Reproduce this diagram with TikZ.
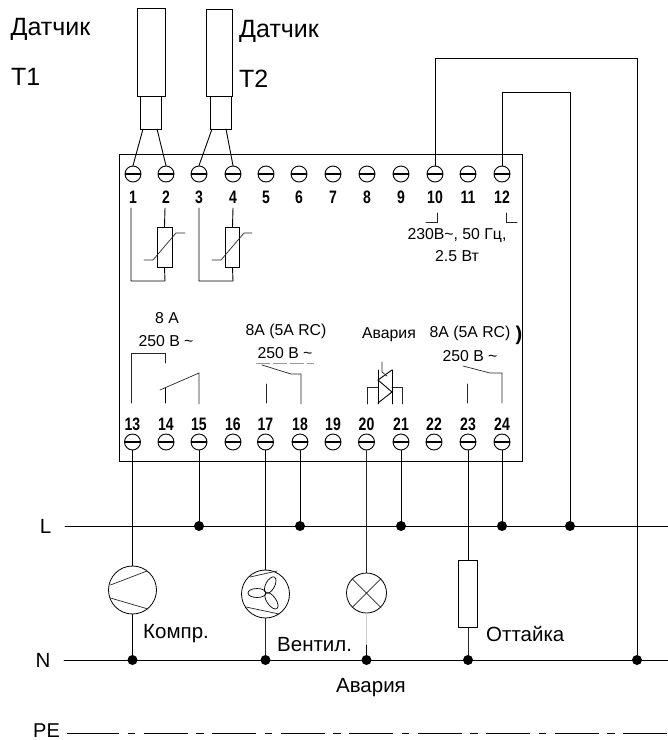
\documentclass[tikz,border=0pt]{standalone}
\usepackage{fontspec}
\setmainfont{Liberation Sans}
\usetikzlibrary{calc}
\tikzset{
  wire/.style={line width=0.9pt,line cap=round,line join=miter},
  thin wire/.style={line width=0.7pt,black!85,line cap=round},
  term/.style={circle,draw,line width=0.9pt,minimum size=16pt,inner sep=0pt,
    path picture={\draw[line width=1.5pt] (path picture bounding box.west)--(path picture bounding box.east);}},
  tnum/.style={inner sep=0pt,anchor=base,font=\fontsize{18}{19}\selectfont\bfseries},
  lbl/.style={inner sep=0pt,font=\fontsize{25}{27}\selectfont},
  lbm/.style={inner sep=0pt,font=\fontsize{20.5}{22}\selectfont},
  lbs/.style={inner sep=0pt,font=\fontsize{15.8}{17}\selectfont},
  jdot/.style={circle,fill=black,inner sep=0pt,minimum size=10pt},
  box/.style={draw,line width=0.9pt,inner sep=0pt},
  load/.style={circle,draw,line width=0.8pt,inner sep=0pt,minimum size=48pt}
}
\begin{document}
\begin{tikzpicture}[x=1pt,y=-1pt]
\useasboundingbox (0,0) rectangle (668,740);
% housing
\node[box,minimum width=403pt,minimum height=307pt,anchor=north west] (housing) at (119,154) {};
% terminals
\foreach \i/\x in {1/133,2/166,3/199,4/233,5/266,6/299,7/333,8/367,9/401,10/435,11/468,12/502}{
  \node[term] (t\i) at (\x,174) {};
  \node[tnum] (n\i) at (\x,203.5) {\scalebox{0.78}[1]{\i}};
}
\foreach \i/\x in {13/132.5,14/166,15/199,16/233,17/265.5,18/300,19/333,20/366.5,21/401,22/434,23/468,24/502}{
  \node[term] (t\i) at (\x,442) {};
  \node[tnum] (n\i) at (\x,430.5) {\scalebox{0.78}[1]{\i}};
}
% sensors
\node[box,minimum width=28pt,minimum height=88pt,anchor=north west] (s1) at (136.5,8) {};
\node[box,minimum width=21pt,minimum height=33pt,anchor=north west] (c1) at (140,96) {};
\node[box,minimum width=26pt,minimum height=87pt,anchor=north west] (s2) at (206,9) {};
\node[box,minimum width=21pt,minimum height=33pt,anchor=north west] (c2) at (209.5,96) {};
\coordinate (c1a) at (143,129); \coordinate (c1b) at (157,129);
\coordinate (c2a) at (212,129); \coordinate (c2b) at (226,129);
\draw[wire] (c1a) -- (t1.north) (c1b) -- (t2.north) (c2a) -- (t3.north) (c2b) -- (t4.north);
\node[lbl,anchor=west] (d1) at (10.5,29) {Датчик};
\node[lbl,anchor=west] (T1) at (11,77) {Т1};
\node[lbl,anchor=west] (d2) at (239,31) {Датчик};
\node[lbl,anchor=west] (T2) at (239,79) {Т2};
% thermistors
\node[box,minimum width=15pt,minimum height=40pt] (r1) at (164.5,247) {};
\node[box,minimum width=14pt,minimum height=40pt] (r2) at (232.5,247) {};
\draw[wire] (165,208) -- (r1.north);
\draw[wire] (233,208) -- (r2.north);
\draw[wire] (r1.south) -- (165,281) -- (131,281) -- (131,208);
\draw[wire] (r2.south) -- (233,281) -- (199,281) -- (199,208);
\draw[thin wire] (144,260) -- (153,260) -- (176,233) -- (185,233);
\draw[thin wire] (212,260) -- (221,260) -- (244,233) -- (252,233);
% mains texts
\node[lbs] (mains1) at (457,236) {230В\textasciitilde, 50 Гц,};
\node[lbs] (mains2) at (457,256) {2.5 Вт};
\draw[thin wire] (426,222) -- (437,222) -- (437,213);
\draw[thin wire] (506,213) -- (506,222) -- (517,222);
% supply connections
\draw[wire] (t10.north) -- (435,58) -- (637,58) -- (637,655);
\draw[wire] (t12.north) -- (502,92) -- (570,92) -- (570,521);
% relay texts
\node[lbs] (a1) at (167,318) {8 A};
\node[lbs] (a2) at (166,341) {250 В \textasciitilde};
\node[lbs] (a3) at (286,331) {8A (5A RC)};
\node[lbs] (a4) at (285,353) {250 В \textasciitilde};
\node[lbs] (a5) at (389,335) {Авария};
\node[lbs] (a6) at (470,333) {8A (5A RC)};
\node[lbs] (a7) at (470,356) {250 В \textasciitilde};
\node[inner sep=0pt,font=\fontsize{20}{22}\selectfont\bfseries] (a8) at (519,335) {)};
\draw[line width=0.5pt,black!40,dash pattern=on 14pt off 3pt] (256,363) -- (314,363);
% relay 1
\draw[thin wire] (131,403) -- (131,353) -- (165,353) -- (165,363);
\draw[wire] (165,388) -- (165,403);
\draw[thin wire] (160,390) -- (199,373) -- (199,404);
% relay 2
\draw[thin wire] (262,365) -- (291,374) -- (301,374) -- (301,404);
\draw[thin wire] (266,384) -- (266,403);
% relay 4
\draw[thin wire] (463,366) -- (490,373) -- (502,373) -- (502,403);
\draw[thin wire] (467,384) -- (467,403);
% triac
\draw[thin wire] (367,404) -- (367,387) -- (378,387);
\draw[thin wire] (392,387) -- (402,387) -- (402,404);
\draw[wire] (378,370) -- (378,404) (392,370) -- (392,404);
\draw[wire] (392,370) -- (378,380) -- (392,392) -- (378,403);
\draw[thin wire] (382,362) -- (382,372) -- (387,376);
% busbars
\coordinate (Lw) at (65,526); \coordinate (Le) at (668,526);
\coordinate (Nw) at (64,660); \coordinate (Ne) at (668,660);
\coordinate (Pw) at (67,733.5); \coordinate (Pm) at (75,733.5); \coordinate (Pe) at (668,733.5);
\draw[wire] (Lw) -- (Le);
\draw[wire] (Nw) -- (Ne);
\draw[line width=1pt] (Pw) -- (Pm);
\draw[line width=1pt,dash pattern=on 44pt off 8.5pt on 7.5pt off 8.5pt] (Pm) -- (Pe);
\node[lbm] (L) at (45.5,526) {L};
\node[lbm] (N) at (43,660) {N};
\node[lbm,font=\fontsize{20}{21}\selectfont] (PE) at (46.5,730.5) {PE};
% dots
\foreach \n/\x in {L15/199,L18/300,L21/401,L24/502,L12/570}{\node[jdot] (\n) at (\x,526) {};}
\foreach \n/\x in {N13/132.5,N17/265.5,N20/366.5,N23/468,N10/637}{\node[jdot] (\n) at (\x,660) {};}
% loads
\node[load] (comp) at (132.5,590) {};
\draw[thin wire] (110.5,585) -- (147,571) (110.5,598) -- (148,609);
\node[load] (fan) at (265.5,594) {};
\draw[thin wire] (250,577) -- (277,571) (246,607) -- (279,614);
\begin{scope}[shift={(266,593)},line width=0.7pt]
  \draw[rotate=62] (9,0) ellipse (9pt and 4.5pt);
  \draw[rotate=180] (9,0) ellipse (9pt and 4.5pt);
  \draw[rotate=-55] (9.5,0) ellipse (9.5pt and 4.5pt);
\end{scope}
\node[load,minimum size=40pt] (lamp) at (366.5,593) {};
\draw[thin wire] (lamp.north west) -- (lamp.south east) (lamp.north east) -- (lamp.south west);
\node[box,line width=0.8pt,minimum width=19pt,minimum height=67pt] (heat) at (468,593.5) {};
% load wiring
\draw[wire] (t13.south) -- (comp.north);
\draw[wire] (comp.south) -- (N13.north);
\draw[wire] (t15.south) -- (L15.north);
\draw[wire] (t17.south) -- (fan.north);
\draw[thin wire] (fan.south) -- (N17.north);
\draw[wire] (t18.south) -- (L18.north);
\draw[thin wire] (t20.south) -- (lamp.north);
\draw[line width=0.5pt,black!18] (lamp.south) -- (366.5,645);
\draw[wire] (366.5,645) -- (N20.north);
\draw[wire] (t21.south) -- (L21.north);
\draw[wire] (t23.south) -- (heat.north);
\draw[thin wire] (heat.south) -- (N23.north);
\draw[wire] (t24.south) -- (L24.north);
% load labels
\node[lbm,anchor=west] (l1) at (143,634) {Компр.};
\node[lbm,anchor=west] (l2) at (277,645) {Вентил.};
\node[lbm,anchor=west] (l3) at (486,634) {Оттайка};
\node[lbm] (l4) at (371,688) {Авария};
\end{tikzpicture}
\end{document}
